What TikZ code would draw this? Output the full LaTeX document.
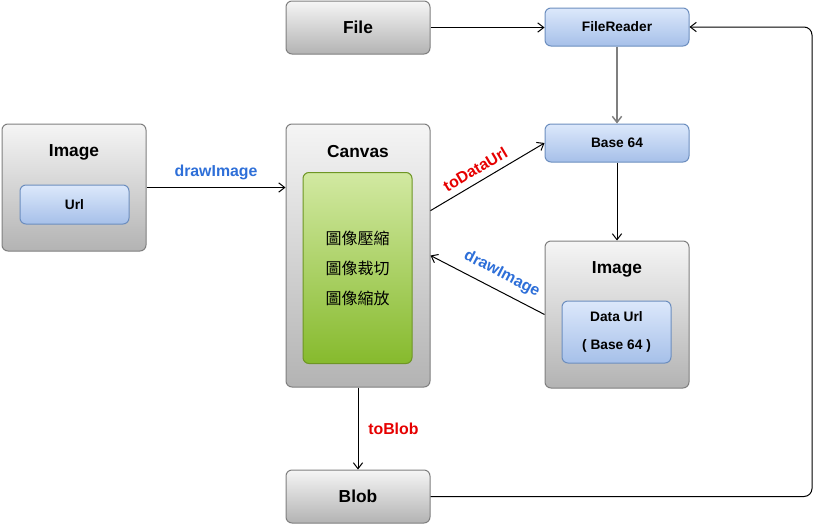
\documentclass[tikz,border=0pt]{standalone}
\usepackage{fontspec}
\setmainfont{Liberation Sans}
\newfontfamily\cjk{Noto Sans CJK TC}
\usetikzlibrary{arrows.meta,calc}
\definecolor{grayTop}{HTML}{F5F5F5}
\definecolor{grayBot}{HTML}{B3B3B3}
\definecolor{grayLine}{HTML}{7F7F7F}
\definecolor{blueTop}{HTML}{DCE8FB}
\definecolor{blueBot}{HTML}{A6C0E9}
\definecolor{blueLine}{HTML}{6C8EBF}
\definecolor{greenTop}{HTML}{D2E9A2}
\definecolor{greenBot}{HTML}{86BA2D}
\definecolor{greenLine}{HTML}{6E9624}
\definecolor{redText}{HTML}{E60000}
\definecolor{blueText}{HTML}{2E6FD8}
\tikzset{
  graybox/.style={draw=grayLine, line width=0.75pt, rounded corners=4.5pt, top color=grayTop, bottom color=grayBot, inner sep=0pt, minimum width=108pt},
  bluebox/.style={draw=blueLine, line width=0.75pt, rounded corners=4.5pt, top color=blueTop, bottom color=blueBot, inner sep=0pt, font=\fontsize{10.3}{12}\selectfont\bfseries},
  greenbox/.style={draw=greenLine, line width=0.75pt, rounded corners=4.5pt, top color=greenTop, bottom color=greenBot, inner sep=0pt, align=center, font=\cjk\fontsize{12}{22.5}\selectfont},
  title/.style={font=\fontsize{13}{15}\selectfont\bfseries},
  link/.style={->, draw=black, line width=0.75pt},
  redlabel/.style={text=redText, font=\fontsize{11.9}{14}\selectfont\bfseries},
  bluelabel/.style={text=blueText, font=\fontsize{11.9}{14}\selectfont\bfseries}
}
\begin{document}
\begin{tikzpicture}[x=0.75pt, y=-0.75pt, >={Straight Barb[length=4.5pt,width=7pt]}]
\useasboundingbox (0,0) rectangle (814,525);
% top row
\node[graybox, minimum height=39.75pt, title] (file) at (358,27.5) {File};
\node[bluebox, minimum width=108pt, minimum height=28.5pt] (reader) at (617,27) {FileReader};
\node[bluebox, minimum width=108pt, minimum height=28.5pt] (base) at (617,143) {Base 64};
% left image
\node[graybox, minimum height=95.25pt] (imgL) at (74,187.5) {};
\node[title] (imgLT) at (74,152) {Image};
\node[bluebox, minimum width=81.75pt, minimum height=29.25pt] (url) at (74.5,204.5) {Url};
% canvas
\node[graybox, minimum height=197.25pt] (canvas) at (358,255.5) {};
\node[title] (canvasT) at (358,152) {Canvas};
\node[greenbox, minimum width=81.75pt, minimum height=143.25pt] (ops) at (357.5,268) {圖像壓縮\\圖像裁切\\圖像縮放};
% right image
\node[graybox, minimum height=110.25pt] (imgR) at (617,314.5) {};
\node[title] (imgRT) at (617,269) {Image};
\node[bluebox, minimum width=81.75pt, minimum height=46.5pt, align=center, font=\fontsize{10.3}{21}\selectfont\bfseries] (data) at (616.5,332) {Data Url\\( Base 64 )};
% bottom
\node[graybox, minimum height=39.75pt, title] (blob) at (358,496.5) {Blob};
\coordinate (turn) at (812,27);
% links
\draw[link] (file.east) -- (file.east -| reader.west);
\draw[link, draw=grayLine, line width=1.1pt] (reader) -- (base);
\draw[link] (base) -- (imgR);
\draw[link] (imgL.east) -- (imgL.east -| canvas.west) node[midway, above=2pt, bluelabel] {drawImage};
\draw[link] ($(canvas.north east)!0.33!(canvas.south east)$) -- (base.west) node[pos=0.45, sloped, above=1.5pt, redlabel] {toDataUrl};
\draw[link] (imgR.west) -- (canvas.east) node[pos=0.44, sloped, above=3pt, bluelabel] {drawImage};
\draw[link] (canvas) -- (blob) node[midway, right=4pt, redlabel] {toBlob};
\draw[link, rounded corners=6pt] (blob.east) -| (turn) -- (reader.east);
\end{tikzpicture}
\end{document}
